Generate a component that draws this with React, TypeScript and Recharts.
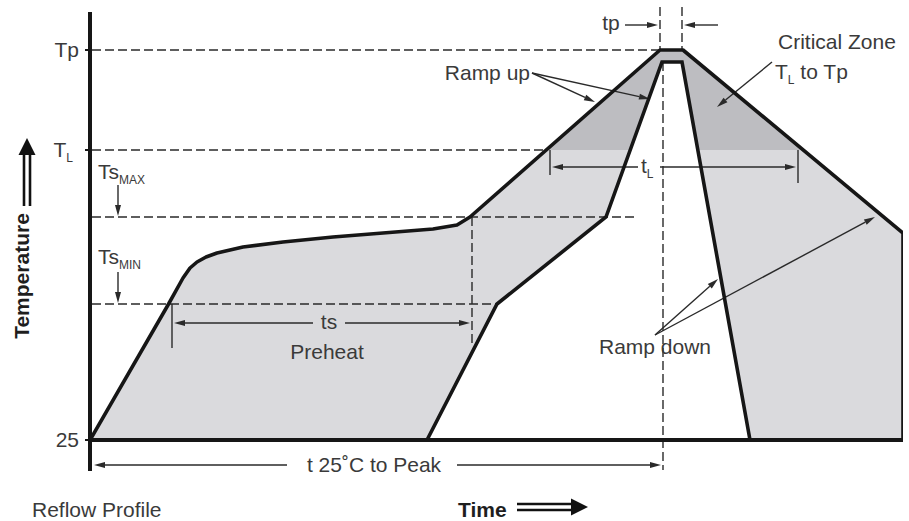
import { ComposedChart, Area, Line, XAxis, YAxis, ReferenceLine, ReferenceDot } from 'recharts'

// outer (max) reflow profile, time vs temperature in drawing units
const profileTime = [0, 78, 93, 100, 107, 116, 127, 153, 193, 243, 293, 343, 367, 380, 570, 593, 813, 813]
const profileTemp = [0, 135, 162, 172, 178, 183, 187, 193, 198, 203, 207, 211, 215, 223, 390, 390, 207, 0]

// inner (min) profile
const minTime = [337, 407, 516, 572, 592, 660]
const minTemp = [0, 136, 223, 378, 378, 0]

// part of the outer profile above T_L (critical zone)
const criticalTime = [456, 570, 593, 713]
const criticalTemp = [290, 390, 390, 290]

// temperature levels
const levelTicks = [390, 290, 0]
const TP = 390
const TL = 290
const TS_MAX = 223
const TS_MIN = 136

// dashed guides [x1, y1, x2, y2]
const dashedGuides = [
    [2, TP, 570, TP],
    [2, TL, 456, TL],
    [2, TS_MAX, 546, TS_MAX],
    [2, TS_MIN, 407, TS_MIN],
    [570, 433, 570, TP],
    [573, 378, 573, -30],
    [592, 433, 592, TP],
    [382, TS_MAX, 382, 93],
]

// plain tick marks
const tickGuides = [
    [82, TS_MIN, 82, 92],
    [460, TL, 460, 265],
    [708, TL, 708, 257],
]

// arrows, head at the second point
const arrows = [
    [28, 255, 28, 224],
    [28, 168, 28, 137],
    [223, 117, 84, 117],
    [255, 117, 380, 117],
    [548, 273, 462, 273],
    [570, 273, 706, 273],
    [197, -25, 4, -25],
    [367, -25, 571, -25],
    [535, 415, 568, 415],
    [628, 415, 594, 415],
    [442, 367, 505, 338],
    [442, 367, 560, 341],
    [682, 378, 627, 333],
    [565, 105, 628, 161],
    [565, 105, 785, 223],
]

const FONT = 'Liberation Sans, Arial, sans-serif'
const TEXT = '#3a3a3a'
const INK = '#161616'

type Row = { t: number; outer?: number; inner?: number; critical?: number }

function buildRows(): Row[] {
    const rows: Row[] = []
    profileTime.forEach((t, i) => rows.push({ t, outer: profileTemp[i] }))
    minTime.forEach((t, i) => rows.push({ t, inner: minTemp[i] }))
    criticalTime.forEach((t, i) => rows.push({ t, critical: criticalTemp[i] }))
    return rows.sort((a, b) => a.t - b.t)
}

const rows = buildRows()

function arrowShape(p: any) {
    const { x1, y1, x2, y2 } = p
    const a = Math.atan2(y2 - y1, x2 - x1)
    const len = 11
    const half = 3
    const bx = x2 - len * Math.cos(a)
    const by = y2 - len * Math.sin(a)
    const pts = `${x2},${y2} ${bx - half * Math.sin(a)},${by + half * Math.cos(a)} ${bx + half * Math.sin(a)},${by - half * Math.cos(a)}`
    return (
        <g>
            <line x1={x1} y1={y1} x2={bx} y2={by} stroke='#2a2a2a' strokeWidth={1.4} />
            <polygon points={pts} fill='#2a2a2a' />
        </g>
    )
}

function doubleArrowShape(p: any) {
    const { x1, y1, x2, y2 } = p
    const a = Math.atan2(y2 - y1, x2 - x1)
    const len = 17
    const half = 8.5
    const off = 3
    const bx = x2 - len * Math.cos(a)
    const by = y2 - len * Math.sin(a)
    const nx = -Math.sin(a)
    const ny = Math.cos(a)
    const pts = `${x2},${y2} ${bx + half * nx},${by + half * ny} ${bx - half * nx},${by - half * ny}`
    return (
        <g>
            <line x1={x1 + off * nx} y1={y1 + off * ny} x2={bx + off * nx} y2={by + off * ny} stroke='#111' strokeWidth={2.6} />
            <line x1={x1 - off * nx} y1={y1 - off * ny} x2={bx - off * nx} y2={by - off * ny} stroke='#111' strokeWidth={2.6} />
            <polygon points={pts} fill='#111' />
        </g>
    )
}

function label(text: string, sub: string, anchor: 'start' | 'middle' | 'end', opts: any = {}) {
    return (p: any) => (
        <text
            x={p.cx}
            y={p.cy}
            dy='0.35em'
            textAnchor={anchor}
            fontFamily={FONT}
            fontSize={opts.size ?? 21}
            fontWeight={opts.bold ? 'bold' : 'normal'}
            fill={opts.color ?? TEXT}
            transform={opts.rotate ? `rotate(-90 ${p.cx} ${p.cy})` : undefined}
        >
            {text}
            {sub && <tspan fontSize={12} dy={5}>{sub}</tspan>}
            {opts.after && <tspan dy={-5}>{opts.after}</tspan>}
        </text>
    )
}

function LevelTick(p: any) {
    const { x, y, payload } = p
    const v = payload.value
    const common = { x: x - 4, y, dy: '0.35em', textAnchor: 'end' as const, fontFamily: FONT, fontSize: 21, fill: TEXT }
    if (v === TL) {
        return (
            <text {...common} x={x - 10}>
                T<tspan fontSize={12} dy={5}>L</tspan>
            </text>
        )
    }
    return <text {...common}>{v === TP ? 'Tp' : '25'}</text>
}

export default function App() {
    return (
        <div style={{ position: 'absolute', left: 0, top: 0, width: 909, height: 521, background: '#fff' }}>
            <ComposedChart width={909} height={521} data={rows} margin={{ top: 12, right: 6, bottom: 50, left: 0 }}>
                <XAxis dataKey='t' type='number' domain={[0, 813]} hide allowDataOverflow />
                <YAxis
                    type='number'
                    domain={[-31, 428]}
                    width={90}
                    ticks={levelTicks}
                    interval={0}
                    tick={<LevelTick />}
                    tickSize={5}
                    tickLine={{ stroke: INK, strokeWidth: 2 }}
                    axisLine={{ stroke: INK, strokeWidth: 4 }}
                    allowDataOverflow
                />

                <Area dataKey='outer' type='linear' connectNulls baseValue={0} fill='#dadadd' fillOpacity={1} stroke='none' isAnimationActive={false} />
                <Area dataKey='critical' type='linear' connectNulls baseValue={TL} fill='#bdbdc1' fillOpacity={1} stroke='none' isAnimationActive={false} />
                <Area dataKey='inner' type='linear' connectNulls baseValue={0} fill='#ffffff' fillOpacity={1} stroke='none' isAnimationActive={false} />

                {dashedGuides.map((g, i) => (
                    <ReferenceLine key={'d' + i} segment={[{ x: g[0], y: g[1] }, { x: g[2], y: g[3] }]} stroke='#2a2a2a' strokeWidth={1.4} strokeDasharray='9 4' ifOverflow='visible' />
                ))}
                {tickGuides.map((g, i) => (
                    <ReferenceLine key={'k' + i} segment={[{ x: g[0], y: g[1] }, { x: g[2], y: g[3] }]} stroke='#2a2a2a' strokeWidth={1.4} ifOverflow='visible' />
                ))}
                {arrows.map((g, i) => (
                    <ReferenceLine key={'a' + i} segment={[{ x: g[0], y: g[1] }, { x: g[2], y: g[3] }]} shape={arrowShape} ifOverflow='visible' />
                ))}

                <Line dataKey='outer' type='linear' connectNulls dot={false} stroke={INK} strokeWidth={3.6} strokeLinejoin='round' isAnimationActive={false} />
                <Line dataKey='inner' type='linear' connectNulls dot={false} stroke={INK} strokeWidth={3.6} isAnimationActive={false} />

                <ReferenceLine y={0} stroke={INK} strokeWidth={4} ifOverflow='visible' />

                <ReferenceLine segment={[{ x: -63, y: 234 }, { x: -63, y: 302 }]} shape={doubleArrowShape} ifOverflow='visible' />
                <ReferenceLine segment={[{ x: 427, y: -67 }, { x: 498, y: -67 }]} shape={doubleArrowShape} ifOverflow='visible' />

                <ReferenceDot x={-68} y={164} ifOverflow='visible' shape={label('Temperature', '', 'middle', { bold: true, rotate: true, color: '#1e1e1e' })} />
                <ReferenceDot x={368} y={-70} ifOverflow='visible' shape={label('Time', '', 'start', { bold: true, color: '#1e1e1e' })} />
                <ReferenceDot x={-58} y={-70} ifOverflow='visible' shape={label('Reflow Profile', '', 'start')} />

                <ReferenceDot x={8} y={268} ifOverflow='visible' shape={label('Ts', 'MAX', 'start')} />
                <ReferenceDot x={8} y={183} ifOverflow='visible' shape={label('Ts', 'MIN', 'start')} />
                <ReferenceDot x={239} y={118} ifOverflow='visible' shape={label('ts', '', 'middle')} />
                <ReferenceDot x={237} y={88} ifOverflow='visible' shape={label('Preheat', '', 'middle')} />
                <ReferenceDot x={284} y={-25} ifOverflow='visible' shape={label('t 25˚C to Peak', '', 'middle')} />
                <ReferenceDot x={440} y={367} ifOverflow='visible' shape={label('Ramp up', '', 'end')} />
                <ReferenceDot x={688} y={398} ifOverflow='visible' shape={label('Critical Zone', '', 'start')} />
                <ReferenceDot x={685} y={368} ifOverflow='visible' shape={label('T', 'L', 'start', { after: ' to Tp' })} />
                <ReferenceDot x={565} y={93} ifOverflow='visible' shape={label('Ramp down', '', 'middle')} />
                <ReferenceDot x={551} y={274} ifOverflow='visible' shape={label('t', 'L', 'start')} />
                <ReferenceDot x={521} y={417} ifOverflow='visible' shape={label('tp', '', 'middle')} />
            </ComposedChart>
        </div>
    )
}
